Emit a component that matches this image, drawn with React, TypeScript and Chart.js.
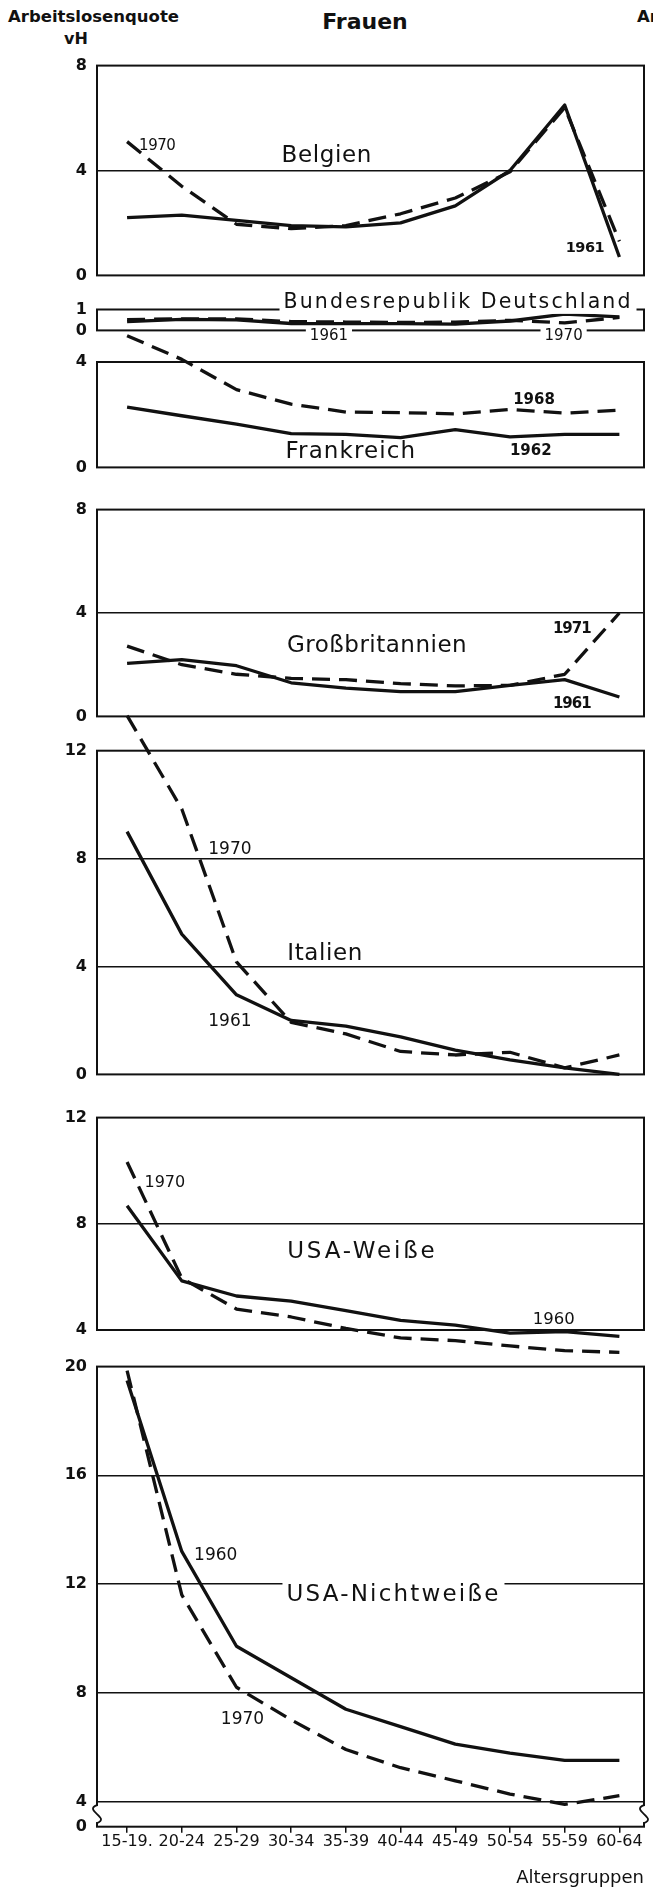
import React, { useEffect, useRef } from 'react';
import { Chart, registerables } from 'chart.js';

Chart.register(...registerables);

// ---------- data ----------
const ageGroups = ['15-19.', '20-24', '25-29', '30-34', '35-39', '40-44', '45-49', '50-54', '55-59', '60-64'];

const belgien1961 = [2.2, 2.3, 2.1, 1.9, 1.85, 2.0, 2.65, 4.0, 6.5, 0.7];
const belgien1970 = [5.1, 3.4, 1.95, 1.78, 1.9, 2.35, 2.95, 3.95, 6.4, 1.3];
const brd1961 = [0.42, 0.53, 0.5, 0.33, 0.32, 0.32, 0.3, 0.45, 0.78, 0.65];
const brd1970 = [0.52, 0.55, 0.55, 0.42, 0.4, 0.38, 0.4, 0.48, 0.36, 0.62];
const frankreich1962 = [2.29, 1.96, 1.64, 1.28, 1.25, 1.13, 1.43, 1.16, 1.25, 1.25];
const frankreich1968 = [5.0, 4.1, 2.95, 2.4, 2.1, 2.08, 2.03, 2.2, 2.06, 2.17];
const gb1961 = [2.05, 2.2, 1.96, 1.3, 1.09, 0.96, 0.96, 1.2, 1.42, 0.75];
const gb1971 = [2.72, 2.0, 1.63, 1.47, 1.42, 1.27, 1.18, 1.2, 1.63, 4.0];
const italien1961 = [9.0, 5.2, 2.95, 2.0, 1.79, 1.39, 0.9, 0.54, 0.24, 0.0];
const italien1970 = [13.3, 9.84, 4.17, 1.93, 1.5, 0.85, 0.72, 0.82, 0.24, 0.72];
const usaWeisse1960 = [8.68, 5.85, 5.28, 5.09, 4.73, 4.36, 4.18, 3.88, 3.94, 3.76];
const usaWeisse1970 = [10.33, 5.95, 4.79, 4.49, 4.06, 3.7, 3.6, 3.4, 3.22, 3.16];
const usaNichtweisse1960 = [19.49, 13.2, 9.71, 8.55, 7.39, 6.75, 6.11, 5.78, 5.51, 5.51];
const usaNichtweisse1970 = [19.85, 11.6, 8.2, 7.0, 5.91, 5.24, 4.76, 4.27, 3.89, 4.21];

const belgienTicks = [0, 4, 8];
const brdTicks = [0, 1];
const frankreichTicks = [0, 4];
const gbTicks = [0, 4, 8];
const italienTicks = [0, 4, 8, 12];
const usaWeisseTicks = [4, 8, 12];
const usaNichtweisseTicks = [0, 4, 8, 12, 16, 20];

// ---------- layout ----------
const PAGE_W = 653;
const AXIS_W = 97;
const RIGHT_PAD = 9;
const FONT = "'DejaVu Sans', 'Noto Sans', sans-serif";
const INK = '#111';

type Label = { text: string; x: number; y: number; size: number; bold?: boolean; bg?: boolean; spacing?: number };
type PanelCfg = {
  id: string;
  canvasTop: number;
  canvasBottom: number;
  areaTop: number;
  areaBottom: number;
  yMin: number;
  yMax: number;
  yTicks: number[];
  gridAt: number[];
  solid: number[];
  dashed: number[];
  labels: Label[];
  showX?: boolean;
  axisBreak?: boolean;
};

const panels: PanelCfg[] = [
  {
    id: 'belgien', canvasTop: 46, canvasBottom: 295, areaTop: 59, areaBottom: 283,
    yMin: 0, yMax: 8, yTicks: belgienTicks, gridAt: [4],
    solid: belgien1961, dashed: belgien1970,
    labels: [
      { text: 'Belgien', x: 3.65, y: 4.57, size: 23, spacing: 0.6 },
      { text: '1970', x: 0.55, y: 4.93, size: 15, spacing: -0.5 },
      { text: '1961', x: 8.37, y: 1.02, size: 14.5, bold: true, spacing: -0.5 },
    ],
  },
  {
    id: 'brd', canvasTop: 288, canvasBottom: 350, areaTop: 309.5, areaBottom: 332.5,
    yMin: 0, yMax: 1, yTicks: brdTicks, gridAt: [],
    solid: brd1961, dashed: brd1970,
    labels: [
      { text: 'Bundesrepublik Deutschland', x: 6.05, y: 1.33, size: 20.5, spacing: 2.1, bg: true },
      { text: '1961', x: 3.69, y: -0.28, size: 15, bg: true },
      { text: '1970', x: 7.98, y: -0.28, size: 15, bg: true },
    ],
  },
  {
    id: 'frankreich', canvasTop: 326, canvasBottom: 487, areaTop: 362, areaBottom: 474.3,
    yMin: 0, yMax: 4, yTicks: frankreichTicks, gridAt: [],
    solid: frankreich1962, dashed: frankreich1968,
    labels: [
      { text: 'Frankreich', x: 4.09, y: 0.6, size: 23, spacing: 1.1 },
      { text: '1968', x: 7.44, y: 2.56, size: 15, bold: true },
      { text: '1962', x: 7.38, y: 0.63, size: 15, bold: true },
    ],
  },
  {
    id: 'gb', canvasTop: 490, canvasBottom: 736, areaTop: 502.7, areaBottom: 723.3,
    yMin: 0, yMax: 8, yTicks: gbTicks, gridAt: [4],
    solid: gb1961, dashed: gb1971,
    labels: [
      { text: 'Großbritannien', x: 4.57, y: 2.73, size: 23, spacing: 0.5 },
      { text: '1971', x: 8.13, y: 3.37, size: 15, bold: true, spacing: -1 },
      { text: '1961', x: 8.13, y: 0.48, size: 15, bold: true, spacing: -1 },
    ],
  },
  {
    id: 'italien', canvasTop: 704, canvasBottom: 1094, areaTop: 750.7, areaBottom: 1081.7,
    yMin: 0, yMax: 12, yTicks: italienTicks, gridAt: [4, 8],
    solid: italien1961, dashed: italien1970,
    labels: [
      { text: '1970', x: 1.88, y: 8.35, size: 17 },
      { text: 'Italien', x: 3.62, y: 4.47, size: 23, spacing: 0.6 },
      { text: '1961', x: 1.88, y: 1.97, size: 17 },
    ],
  },
  {
    id: 'usaWeisse', canvasTop: 1098, canvasBottom: 1362, areaTop: 1110.7, areaBottom: 1330,
    yMin: 4, yMax: 12, yTicks: usaWeisseTicks, gridAt: [8],
    solid: usaWeisse1960, dashed: usaWeisse1970,
    labels: [
      { text: '1970', x: 0.69, y: 9.56, size: 16 },
      { text: 'USA-Weiße', x: 4.3, y: 6.92, size: 23, spacing: 2.8 },
      { text: '1960', x: 7.8, y: 4.4, size: 16.5 },
    ],
  },
  {
    id: 'usaNichtweisse', canvasTop: 1347, canvasBottom: 1890, areaTop: 1359.3, areaBottom: 1826.7,
    yMin: 3.07, yMax: 20, yTicks: usaNichtweisseTicks, gridAt: [4, 8, 12, 16],
    solid: usaNichtweisse1960, dashed: usaNichtweisse1970,
    labels: [
      { text: '1960', x: 1.62, y: 13.06, size: 17 },
      { text: 'USA-Nichtweiße', x: 4.87, y: 11.61, size: 23, spacing: 2.2, bg: true },
      { text: '1970', x: 2.11, y: 7.0, size: 17 },
    ],
    showX: true,
    axisBreak: true,
  },
];

function makePlugins(cfg: PanelCfg) {
  const frame = {
    id: 'frame_' + cfg.id,
    beforeDatasetsDraw(chart: any) {
      const { ctx, chartArea } = chart;
      ctx.save();
      ctx.strokeStyle = INK;
      ctx.lineWidth = 2;
      ctx.strokeRect(chartArea.left, chartArea.top, chartArea.right - chartArea.left, chartArea.bottom - chartArea.top);
      ctx.restore();
    },
  };
  const labels = {
    id: 'labels_' + cfg.id,
    afterDraw(chart: any) {
      const { ctx, chartArea } = chart;
      const xs = chart.scales.x;
      const ys = chart.scales.y;
      if (cfg.axisBreak) {
        const m = ys.getPixelForValue((cfg.yMin + 4) / 2);
        for (const x of [chartArea.left, chartArea.right]) {
          ctx.save();
          ctx.fillStyle = '#fff';
          ctx.fillRect(x - 3, m - 8, 6, 16);
          ctx.strokeStyle = INK;
          ctx.lineWidth = 1.8;
          ctx.beginPath();
          ctx.moveTo(x, m - 9);
          ctx.bezierCurveTo(x - 14, m - 4, x + 14, m + 4, x, m + 9);
          ctx.stroke();
          ctx.restore();
        }
      }
      for (const l of cfg.labels) {
        const px = xs.getPixelForValue(l.x);
        const py = ys.getPixelForValue(l.y);
        ctx.save();
        ctx.font = `${l.bold ? 'bold ' : ''}${l.size}px ${FONT}`;
        (ctx as any).letterSpacing = `${l.spacing ?? 0}px`;
        ctx.textAlign = 'center';
        ctx.textBaseline = 'middle';
        if (l.bg) {
          const w = ctx.measureText(l.text).width;
          ctx.fillStyle = '#fff';
          ctx.fillRect(px - w / 2 - 4, py - l.size * 0.55, w + 8, l.size * 1.1);
        }
        ctx.fillStyle = INK;
        ctx.fillText(l.text, px, py);
        ctx.restore();
      }
    },
  };
  return [frame, labels];
}

function Panel({ cfg }: { cfg: PanelCfg }) {
  const ref = useRef<HTMLCanvasElement>(null);
  const h = cfg.canvasBottom - cfg.canvasTop;

  useEffect(() => {
    const canvas = ref.current;
    if (!canvas) return;
    const padTop = cfg.areaTop - cfg.canvasTop;
    const xAxisH = cfg.showX ? cfg.canvasBottom - cfg.areaBottom : 0;
    const padBottom = cfg.showX ? 0 : cfg.canvasBottom - cfg.areaBottom;

    const toPoints = (arr: number[]) => arr.map((y, i) => ({ x: i, y }));

    const chart = new Chart(canvas, {
      type: 'line',
      data: {
        datasets: [
          {
            data: toPoints(cfg.solid),
            borderColor: INK,
            borderWidth: 3.3,
            pointRadius: 0,
            tension: 0,
            fill: false,
            clip: false,
            borderJoinStyle: 'round',
          } as any,
          {
            data: toPoints(cfg.dashed),
            borderColor: INK,
            borderWidth: 3.3,
            borderDash: [18, 9],
            pointRadius: 0,
            tension: 0,
            fill: false,
            clip: false,
            borderJoinStyle: 'round',
          } as any,
        ],
      },
      options: {
        responsive: false,
        maintainAspectRatio: false,
        animation: false,
        devicePixelRatio: 1,
        events: [],
        layout: { padding: { top: padTop, bottom: padBottom, left: 0, right: RIGHT_PAD } },
        plugins: { legend: { display: false }, tooltip: { enabled: false }, title: { display: false } },
        scales: {
          x: {
            type: 'linear',
            min: -0.55,
            max: 9.45,
            display: !!cfg.showX,
            afterBuildTicks: (s: any) => {
              s.ticks = ageGroups.map((_, i) => ({ value: i }));
            },
            afterFit: (s: any) => {
              if (cfg.showX) s.height = xAxisH;
            },
            ticks: {
              autoSkip: false,
              maxRotation: 0,
              minRotation: 0,
              padding: 0,
              color: INK,
              font: { family: FONT, size: 16 },
              callback: (v: any) => ageGroups[Math.round(Number(v))] ?? '',
            },
            grid: { drawOnChartArea: false, drawTicks: true, tickLength: 6, color: INK, lineWidth: 1.5 },
            border: { display: false },
            title: {
              display: true,
              text: 'Altersgruppen',
              align: 'end',
              color: INK,
              font: { family: FONT, size: 18 },
              padding: { top: 0, bottom: 1 },
            },
          } as any,
          y: {
            type: 'linear',
            min: cfg.yMin,
            max: cfg.yMax,
            afterBuildTicks: (s: any) => {
              s.ticks = cfg.yTicks.map((v) => ({ value: Math.max(v, cfg.yMin) }));
            },
            afterFit: (s: any) => {
              s.width = AXIS_W;
            },
            ticks: {
              padding: 10,
              color: INK,
              font: { family: FONT, size: 16, weight: 'bold' },
              callback: (_v: any, i: number) => String(cfg.yTicks[i]),
            },
            grid: {
              drawTicks: false,
              lineWidth: 1.5,
              color: (ctx: any) => (ctx.tick && cfg.gridAt.includes(ctx.tick.value) ? INK : 'rgba(0,0,0,0)'),
            },
            border: { display: false },
          } as any,
        },
      },
      plugins: makePlugins(cfg) as any,
    });
    return () => chart.destroy();
  }, [cfg]);

  return (
    <canvas
      ref={ref}
      width={PAGE_W}
      height={h}
      style={{ position: 'absolute', left: 0, top: cfg.canvasTop, width: PAGE_W, height: h, display: 'block' }}
    />
  );
}

export default function App() {
  return (
    <div
      style={{
        position: 'absolute',
        left: 0,
        top: 0,
        width: PAGE_W,
        height: 1890,
        overflow: 'hidden',
        background: '#fff',
        color: INK,
        fontFamily: FONT,
      }}
    >
      <div style={{ position: 'absolute', left: 8, top: 7, lineHeight: '20px', fontSize: 16.5, fontWeight: 'bold', whiteSpace: 'nowrap' }}>
        Arbeitslosenquote
      </div>
      <div style={{ position: 'absolute', left: 56, top: 29, width: 40, textAlign: 'center', lineHeight: '20px', fontSize: 16, fontWeight: 'bold' }}>
        vH
      </div>
      <div style={{ position: 'absolute', left: 265, top: 8, width: 200, textAlign: 'center', lineHeight: '28px', fontSize: 22, fontWeight: 'bold' }}>
        Frauen
      </div>
      <div style={{ position: 'absolute', left: 637, top: 7, lineHeight: '20px', fontSize: 16.5, fontWeight: 'bold', whiteSpace: 'nowrap' }}>
        Arbeitslosenquote
      </div>
      {panels.map((p) => (
        <Panel key={p.id} cfg={p} />
      ))}
    </div>
  );
}
